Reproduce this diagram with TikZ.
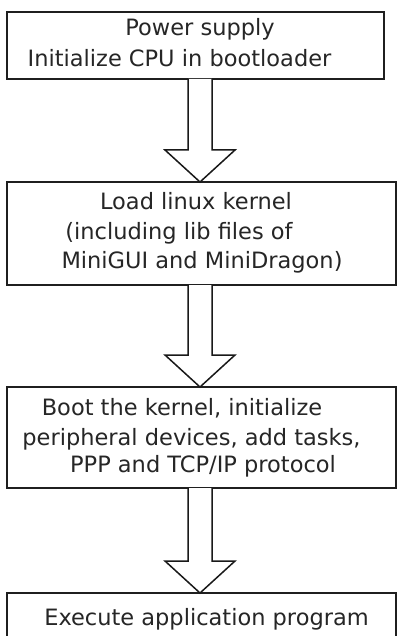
\documentclass[tikz,border=0pt]{standalone}
\usepackage{fontspec}
\setmainfont{DejaVu Sans}
\usetikzlibrary{calc}

\tikzset{
  stage/.style={draw=black!88, line width=2.2pt, rectangle, inner sep=0pt, outer sep=0pt, fill=white},
  txt/.style={anchor=base, inner sep=0pt, text=black!85, font=\fontsize{22.5}{25}\selectfont},
  flowarrow/.style={draw=black!90, line width=1.5pt, line join=miter, fill=white},
}

% hollow block arrow from the bottom of #1 to the top of #2, centred on coordinate #3
\newcommand\blockarrow[3]{%
  \draw[flowarrow]
    ($(#1.south -| #3)+(-12,0)$) --
    ($(#2.north -| #3)+(-12,-32)$) --
    ($(#2.north -| #3)+(-35,-32)$) --
    (#2.north -| #3) --
    ($(#2.north -| #3)+(35,-32)$) --
    ($(#2.north -| #3)+(12,-32)$) --
    ($(#1.south -| #3)+(12,0)$);
}

\begin{document}
\begin{tikzpicture}[x=1pt,y=-1pt]
  \useasboundingbox (0,0) rectangle (396,636);

  % stages of the boot sequence
  \node[stage, minimum width=377pt, minimum height=67pt]  (b1) at (195.5,45.5)  {};
  \node[stage, minimum width=389pt, minimum height=103pt] (b2) at (201.5,233.5) {};
  \node[stage, minimum width=389pt, minimum height=101pt] (b3) at (201.5,437.5) {};
  \node[stage, minimum width=389pt, minimum height=67pt]  (b4) at (201.5,626.5) {};

  \coordinate (axis) at (200,0);

  % arrows between stages
  \blockarrow{b1}{b2}{axis}
  \blockarrow{b2}{b3}{axis}
  \blockarrow{b3}{b4}{axis}

  % labels
  \node[txt] (t11) at (200,36)   {Power supply};
  \node[txt] (t12) at (179.5,67) {Initialize CPU in bootloader};

  \node[txt] (t21) at (196,210)  {Load linux kernel};
  \node[txt] (t22) at (179,239)  {(including lib files of};
  \node[txt] (t23) at (202,268)  {MiniGUI and MiniDragon)};

  \node[txt] (t31) at (182,415)  {Boot the kernel, initialize};
  \node[txt] (t32) at (191.5,445) {peripheral devices, add tasks,};
  \node[txt] (t33) at (203,472)  {PPP and TCP/IP protocol};

  \node[txt] (t41) at (206.5,625) {Execute application program};
\end{tikzpicture}
\end{document}
